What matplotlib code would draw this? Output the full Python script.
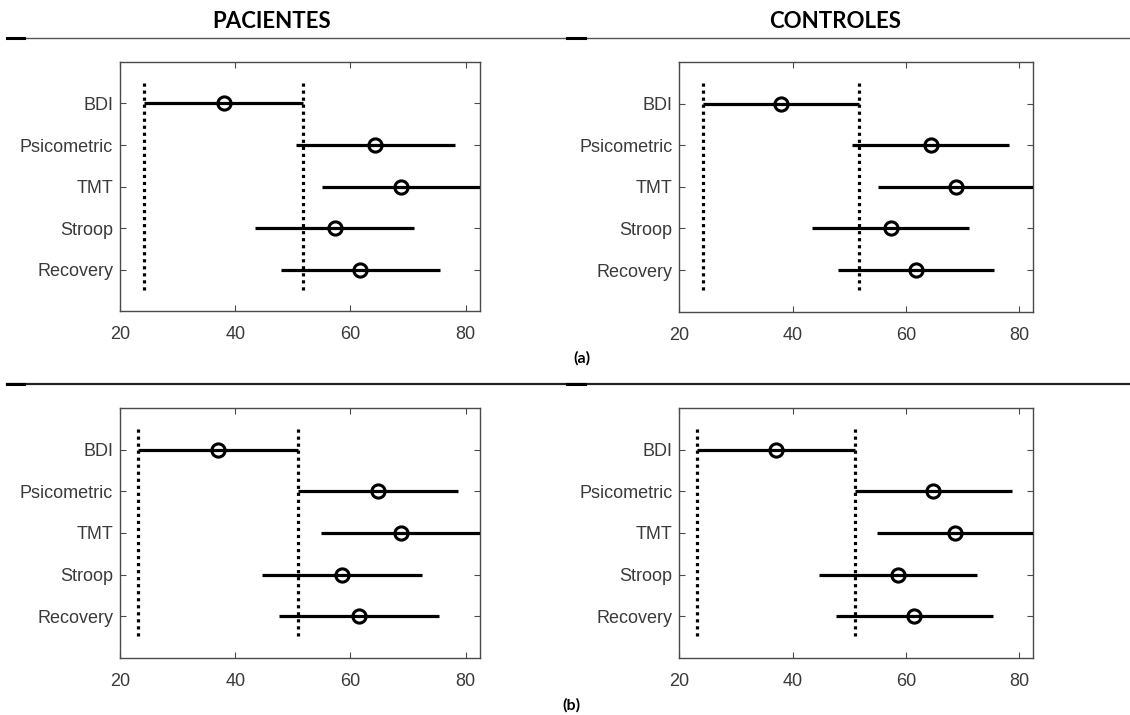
import numpy as np
import matplotlib
matplotlib.use("Agg")
import matplotlib.pyplot as plt
from matplotlib.lines import Line2D

# ── data ──────────────────────────────────────────────────────────────────────
categories = ["BDI", "Psicometric", "TMT", "Stroop", "Recovery"]

pac_a_mean = [38.0, 64.35, 68.85, 57.3, 61.75]
pac_a_hw = [13.8, 13.8, 13.8, 13.8, 13.8]
ctl_a_mean = [38.0, 64.35, 68.85, 57.3, 61.75]
ctl_a_hw = [13.8, 13.8, 13.8, 13.8, 13.8]

pac_b_mean = [37.05, 64.8, 68.75, 58.6, 61.5]
pac_b_hw = [13.87, 13.87, 13.87, 13.87, 13.87]
ctl_b_mean = [37.05, 64.8, 68.75, 58.6, 61.5]
ctl_b_hw = [13.87, 13.87, 13.87, 13.87, 13.87]

headers = ["PACIENTES", "CONTROLES"]
xticks = [20, 40, 60, 80]

TXT = "#3a3a3a"
SPINE = "#4a4a4a"

plt.rcParams["font.family"] = ["Liberation Sans", "DejaVu Sans"]

fig = plt.figure(figsize=(11.3, 7.15), dpi=100)


def draw_panel(rect, means, hw):
    ax = fig.add_axes(rect)
    pos = np.arange(1, len(categories) + 1)
    means = np.asarray(means)
    hw = np.asarray(hw)
    # reference interval = first group (BDI)
    lo, hi = means[0] - hw[0], means[0] + hw[0]
    for xv in (lo, hi):
        ax.plot([xv, xv], [0.5, 5.5], color="k", lw=2.3,
                linestyle=(0, (1, 1.2)), zorder=2)
    ax.errorbar(means, pos, xerr=hw, fmt="o", color="k", ecolor="k",
                elinewidth=2.3, capsize=0, ms=9.5, mfc="none", mec="k",
                mew=2.2, zorder=3)
    ax.set_xlim(20, 82.5)
    ax.set_ylim(6, 0)
    ax.set_yticks(pos)
    ax.set_yticklabels(categories)
    ax.set_xticks(xticks)
    ax.tick_params(direction="in", length=4, width=0.8, color=SPINE,
                   labelcolor=TXT, labelsize=13, top=True, right=True)
    ax.tick_params(axis="x", pad=11)
    ax.tick_params(axis="y", pad=5)
    for s in ax.spines.values():
        s.set_color(SPINE)
        s.set_linewidth(1.0)
    return ax


draw_panel([0.1062, 0.5650, 0.3186, 0.3483], pac_a_mean, pac_a_hw)
draw_panel([0.6012, 0.5641, 0.3133, 0.3492], ctl_a_mean, ctl_a_hw)
draw_panel([0.1062, 0.0802, 0.3186, 0.3487], pac_b_mean, pac_b_hw)
draw_panel([0.6012, 0.0797, 0.3133, 0.3497], ctl_b_mean, ctl_b_hw)

# ── table-like headers and rules ──────────────────────────────────────────────
hfont = dict(family=["Lato", "DejaVu Sans"], weight="bold", color="k")
fig.text(0.2407, 0.9706, headers[0], ha="center", va="center", fontsize=16, **hfont)
fig.text(0.739, 0.9706, headers[1], ha="center", va="center", fontsize=16, **hfont)
fig.text(0.515, 0.4990, "(a)", ha="center", va="center", fontsize=11.5, **hfont)
fig.text(0.506, 0.0140, "(b)", ha="center", va="center", fontsize=11.5, **hfont)

rules = [(1 - 37.5 / 715, "#555555", 1.0), (1 - 383.5 / 715, "#222222", 1.6)]
for fy, col, lw in rules:
    fig.add_artist(Line2D([7 / 1130, 1.0], [fy, fy], transform=fig.transFigure,
                          color=col, lw=lw))
    for x0, x1 in ((7, 24), (567, 585)):
        fig.add_artist(Line2D([x0 / 1130, x1 / 1130], [fy, fy],
                              transform=fig.transFigure, color="k", lw=2.2))

plt.savefig("out.png", dpi=100)
